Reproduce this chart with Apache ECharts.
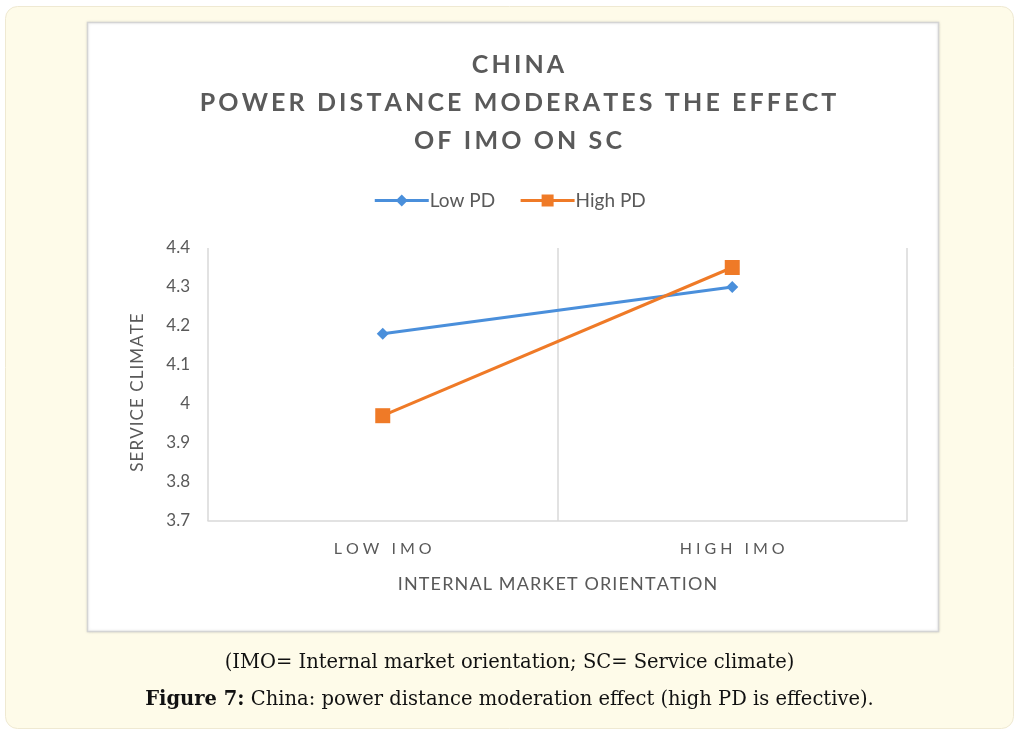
<!DOCTYPE html>
<html>
<head>
<meta charset="utf-8">
<script src="https://cdn.jsdelivr.net/npm/echarts@6/dist/echarts.min.js"></script>
<style>
  html, body { margin: 0; padding: 0; background: #ffffff; }
  #chart { width: 1019px; height: 734px; }
</style>
</head>
<body>
<div id="chart"></div>
<script>
// Category and value data
const categories = ['LOW IMO', 'HIGH IMO'];
const lowPD = [4.18, 4.30];
const highPD = [3.97, 4.35];
const yTicks = { min: 3.7, max: 4.4, interval: 0.1 };
const titleLines = ['CHINA', 'POWER DISTANCE MODERATES THE EFFECT', 'OF IMO ON SC'];
const captionLine1 = '(IMO= Internal market orientation; SC= Service climate)';
const captionBold = 'Figure 7:';
const captionRest = ' China: power distance moderation effect (high PD is effective).';

// Spread letters a little, like the chart's spaced caps
const spaced = (s, sep) => s.split('').join(sep);
const HAIR = '\u200A';
const THIN = '\u2009';

const grey = '#595959';
const captionFont = '"DejaVu Serif", serif';
const chart = echarts.init(document.getElementById('chart'), null, { renderer: 'canvas' });

chart.setOption({
  backgroundColor: '#ffffff',
  animation: false,
  graphic: [
    { type: 'rect', z: -10, shape: { x: 5.5, y: 6.5, width: 1008, height: 722, r: 12 },
      style: { fill: '#fefbe9', stroke: '#efe9d2', lineWidth: 1 } },
    { type: 'rect', z: -9, shape: { x: 87.5, y: 22.5, width: 851, height: 609 },
      style: { fill: '#ffffff', stroke: '#d4d4d4', lineWidth: 1.5,
               shadowBlur: 3, shadowColor: 'rgba(0,0,0,0.12)' } },
    { type: 'text', z: 10, left: 'center', top: 653,
      style: { text: captionLine1, font: '19.5px ' + captionFont, fill: '#111111' } },
    { type: 'text', z: 10, left: 'center', top: 690,
      style: {
        text: '{b|' + captionBold + '}{r|' + captionRest + '}',
        rich: {
          b: { font: 'bold 19.5px ' + captionFont, fill: '#111111' },
          r: { font: '19.5px ' + captionFont, fill: '#111111' }
        }
      } }
  ],
  title: {
    text: titleLines.map(l => spaced(l, HAIR + HAIR)).join('\n'),
    left: 513, textAlign: 'center', top: 41,
    textStyle: { fontFamily: 'Lato', fontSize: 25, fontWeight: 'bold', color: '#5a5a5a', lineHeight: 38 }
  },
  legend: {
    top: 186, left: 'center',
    itemWidth: 54, itemHeight: 15, itemGap: 24,
    lineStyle: { width: 3 },
    textStyle: { fontFamily: 'Lato', fontSize: 19, color: grey, padding: [0, 0, 0, -4] },
    data: ['Low PD', 'High PD']
  },
  grid: { left: 208, right: 112, top: 248, bottom: 213 },
  xAxis: {
    type: 'category',
    data: categories,
    boundaryGap: true,
    name: spaced('INTERNAL MARKET ORIENTATION', HAIR),
    nameLocation: 'middle', nameGap: 54,
    nameTextStyle: { fontFamily: 'Lato', fontSize: 18, color: grey },
    axisLine: { show: true, lineStyle: { color: '#d9d9d9', width: 1.5 } },
    axisTick: { show: false },
    splitLine: { show: true, lineStyle: { color: '#d9d9d9', width: 1.5 } },
    axisLabel: {
      fontFamily: 'Lato', fontSize: 16, color: grey, margin: 20,
      formatter: v => spaced(v, THIN + THIN)
    }
  },
  yAxis: {
    type: 'value',
    min: yTicks.min, max: yTicks.max, interval: yTicks.interval,
    name: spaced('SERVICE CLIMATE', HAIR),
    nameLocation: 'middle', nameGap: 62, nameRotate: 90,
    nameTextStyle: { fontFamily: 'Lato', fontSize: 17, color: grey, padding: [0, 16, 0, 0] },
    axisLine: { show: false },
    axisTick: { show: false },
    splitLine: { show: false },
    axisLabel: {
      fontFamily: 'Lato', fontSize: 17, color: grey, margin: 18,
      formatter: v => String(Math.round(v * 10) / 10)
    }
  },
  series: [
    {
      name: 'Low PD', type: 'line', data: lowPD,
      symbol: 'diamond', symbolSize: 12,
      lineStyle: { color: '#4a8fdb', width: 3 },
      itemStyle: { color: '#4a8fdb' }
    },
    {
      name: 'High PD', type: 'line', data: highPD,
      symbol: 'rect', symbolSize: 15,
      lineStyle: { color: '#ef7a27', width: 3 },
      itemStyle: { color: '#ef7a27' }
    }
  ]
});
</script>
</body>
</html>
